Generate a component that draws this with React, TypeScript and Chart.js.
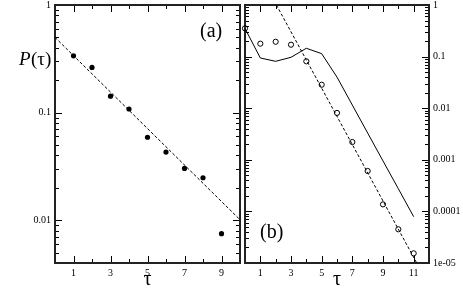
import React, { useEffect, useRef } from 'react';
import { Chart, registerables } from 'chart.js';

Chart.register(...registerables);

// ---- Panel (a) data ----
const tauA = [1, 2, 3, 4, 5, 6, 7, 8, 9];
const pA = [0.337, 0.263, 0.142, 0.108, 0.059, 0.043, 0.0303, 0.0248, 0.0075];
const fitAx = [0, 10];
const fitAy = [0.5, 0.0101];
const xTicksA = [1, 3, 5, 7, 9];
const yTicksA = [1, 0.1, 0.01];
const yLabelsA = ['1', '0.1', '0.01'];

// ---- Panel (b) data ----
const tauB = [0, 1, 2, 3, 4, 5, 6, 7, 8, 9, 10, 11];
const pBcircles = [0.353, 0.178, 0.194, 0.17, 0.081, 0.0285, 0.0081, 0.00221, 0.000607, 0.000137, 0.000045, 0.0000154];
const pBsolid = [0.35, 0.094, 0.081, 0.097, 0.145, 0.114, 0.04, 0.0115, 0.0033, 0.00095, 0.000275, 0.000079];
const fitBx = [2.05, 11.2];
const fitBy = [1, 0.00001];
const xTicksB = [1, 3, 5, 7, 9, 11];
const yTicksB = [1, 0.1, 0.01, 0.001, 0.0001, 0.00001];
const yLabelsB = ['1', '0.1', '0.01', '0.001', '0.0001', '1e-05'];

const SERIF = '"Liberation Serif", "DejaVu Serif", serif';

const pts = (xs: number[], ys: number[]) => xs.map((x, i) => ({ x, y: ys[i] }));

function labelFor(v: number, ticks: number[], labels: string[]) {
  for (let i = 0; i < ticks.length; i++) {
    if (Math.abs(Math.log10(v) - Math.log10(ticks[i])) < 1e-6) return labels[i];
  }
  return '';
}

function framePlugin(texts: { text: string; x: number; y: number; size: number; italic?: boolean; align?: CanvasTextAlign }[]) {
  return {
    id: 'frameTicks',
    beforeDatasetsDraw(chart: any) {
      const { ctx, chartArea: a } = chart;
      const xs = chart.scales.x;
      const ys = chart.scales.y;
      ctx.save();
      ctx.strokeStyle = '#000';
      ctx.lineWidth = 1;
      ctx.beginPath();
      for (let i = Math.ceil(xs.min); i < xs.max; i++) {
        if (i <= xs.min) continue;
        const px = Math.round(xs.getPixelForValue(i)) + 0.5;
        const len = i % 2 === 1 ? 7 : 4;
        ctx.moveTo(px, a.bottom);
        ctx.lineTo(px, a.bottom - len);
        ctx.moveTo(px, a.top);
        ctx.lineTo(px, a.top + len);
      }
      const dMin = Math.floor(Math.log10(ys.min));
      for (let d = dMin; d <= 0; d++) {
        for (let m = 1; m <= 9; m++) {
          const v = m * Math.pow(10, d);
          if (v <= ys.min * 1.0001 || v >= ys.max * 0.9999) continue;
          const py = Math.round(ys.getPixelForValue(v)) + 0.5;
          const len = m === 1 ? 7 : 4;
          ctx.moveTo(a.left, py);
          ctx.lineTo(a.left + len, py);
          ctx.moveTo(a.right, py);
          ctx.lineTo(a.right - len, py);
        }
      }
      ctx.stroke();
      ctx.strokeStyle = '#222';
      ctx.lineWidth = 2;
      ctx.strokeRect(a.left, a.top, a.right - a.left, a.bottom - a.top);
      ctx.restore();
    },
    afterDraw(chart: any) {
      const { ctx } = chart;
      ctx.save();
      ctx.fillStyle = '#000';
      ctx.textBaseline = 'middle';
      for (const t of texts) {
        ctx.font = `${t.italic ? 'italic ' : ''}${t.size}px ${SERIF}`;
        ctx.textAlign = t.align || 'left';
        ctx.fillText(t.text, t.x, t.y);
      }
      ctx.restore();
    },
  };
}

function makeConfig(p: {
  datasets: any[];
  xMax: number;
  yMin: number;
  xTicks: number[];
  yTicks: number[];
  yLabels: string[];
  yPos: 'left' | 'right';
  yWidth: number;
  padding: any;
  texts: any[];
}) {
  const tickFont = { family: SERIF, size: 10, lineHeight: 1 };
  const zeroPad = (s: any) => {
    s.paddingLeft = 0;
    s.paddingRight = 0;
    s.paddingTop = 0;
    s.paddingBottom = 0;
  };
  return {
    type: 'scatter' as const,
    data: { datasets: p.datasets },
    options: {
      responsive: false,
      animation: false as const,
      events: [],
      layout: { padding: p.padding },
      plugins: { legend: { display: false }, tooltip: { enabled: false } },
      scales: {
        x: {
          type: 'linear' as const,
          min: 0,
          max: p.xMax,
          grid: { display: false, drawTicks: false },
          border: { display: false },
          ticks: { font: tickFont, color: '#000', padding: 5, autoSkip: false, maxRotation: 0 },
          afterBuildTicks: (s: any) => {
            s.ticks = p.xTicks.map((v) => ({ value: v }));
          },
          afterFit: (s: any) => {
            s.height = 26;
            zeroPad(s);
          },
        },
        y: {
          type: 'logarithmic' as const,
          position: p.yPos,
          min: p.yMin,
          max: 1,
          grid: { display: false, drawTicks: false },
          border: { display: false },
          ticks: {
            font: tickFont,
            color: '#000',
            padding: 4,
            autoSkip: false,
            callback: (v: any) => labelFor(Number(v), p.yTicks, p.yLabels),
          },
          afterBuildTicks: (s: any) => {
            s.ticks = p.yTicks.map((v) => ({ value: v }));
          },
          afterFit: (s: any) => {
            s.width = p.yWidth;
            zeroPad(s);
          },
        },
      },
    },
    plugins: [framePlugin(p.texts)],
  };
}

export default function App() {
  const refA = useRef<HTMLCanvasElement>(null);
  const refB = useRef<HTMLCanvasElement>(null);

  useEffect(() => {
    const chartA = new Chart(
      refA.current as HTMLCanvasElement,
      makeConfig({
        datasets: [
          {
            data: pts(fitAx, fitAy),
            showLine: true,
            borderColor: '#000',
            borderWidth: 1,
            borderDash: [3, 2],
            pointRadius: 0,
          },
          {
            data: pts(tauA, pA),
            showLine: false,
            pointRadius: 2.6,
            pointBackgroundColor: '#000',
            pointBorderColor: '#000',
            pointBorderWidth: 0,
            clip: false,
          },
        ],
        xMax: 10,
        yMin: 0.004,
        xTicks: xTicksA,
        yTicks: yTicksA,
        yLabels: yLabelsA,
        yPos: 'left',
        yWidth: 55,
        padding: { left: 0, right: 223, top: 5, bottom: 0 },
        texts: [
          { text: '(a)', x: 200, y: 32, size: 20 },
          { text: 'P', x: 19, y: 60, size: 19, italic: true },
          { text: '(τ)', x: 31, y: 60, size: 19 },
          { text: 'τ', x: 147.5, y: 280, size: 20, align: 'center' },
        ],
      }) as any
    );
    const chartB = new Chart(
      refB.current as HTMLCanvasElement,
      makeConfig({
        datasets: [
          {
            data: pts(fitBx, fitBy),
            showLine: true,
            borderColor: '#000',
            borderWidth: 1,
            borderDash: [3, 2],
            pointRadius: 0,
          },
          {
            data: pts(tauB, pBsolid),
            showLine: true,
            borderColor: '#000',
            borderWidth: 1,
            pointRadius: 0,
          },
          {
            data: pts(tauB, pBcircles),
            showLine: false,
            pointRadius: 2.6,
            pointBackgroundColor: 'rgba(255,255,255,0)',
            pointBorderColor: '#000',
            pointBorderWidth: 1,
            clip: false,
          },
        ],
        xMax: 12,
        yMin: 0.00001,
        xTicks: xTicksB,
        yTicks: yTicksB,
        yLabels: yLabelsB,
        yPos: 'right',
        yWidth: 34,
        padding: { left: 245, right: 0, top: 5, bottom: 0 },
        texts: [
          { text: '(b)', x: 260, y: 233, size: 20 },
          { text: 'τ', x: 337, y: 280, size: 20, align: 'center' },
        ],
      }) as any
    );
    return () => {
      chartA.destroy();
      chartB.destroy();
    };
  }, []);

  return (
    <div style={{ position: 'fixed', left: 0, top: 0, width: 463, height: 289, background: '#fff' }}>
      <canvas ref={refA} width={463} height={289} style={{ position: 'absolute', left: 0, top: 0, width: 463, height: 289 }} />
      <canvas ref={refB} width={463} height={289} style={{ position: 'absolute', left: 0, top: 0, width: 463, height: 289 }} />
    </div>
  );
}
